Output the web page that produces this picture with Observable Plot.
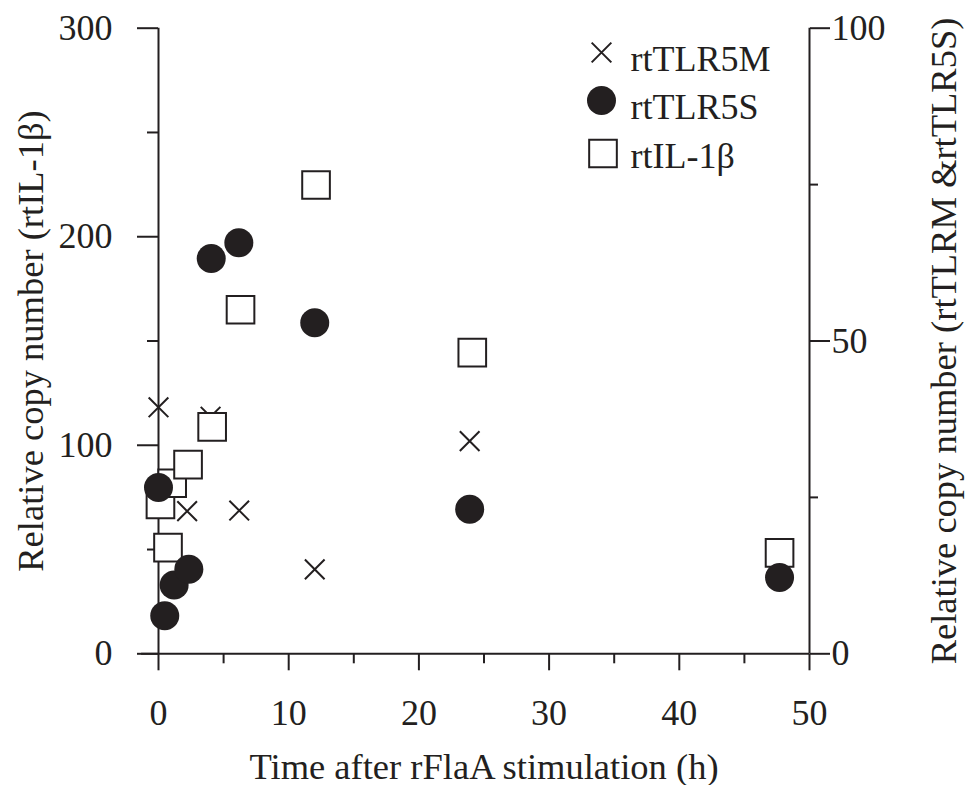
<!DOCTYPE html>
<html><head><meta charset="utf-8">
<script src="https://cdn.jsdelivr.net/npm/d3@7"></script>
<script src="https://cdn.jsdelivr.net/npm/@observablehq/plot@0.6"></script>
<style>html,body{margin:0;padding:0;background:#fff;}</style>
</head><body><div id="chart"></div>
<script>
const ink = "#231f20";
const font = "Liberation Serif";

// rtTLR5M (crosses, right axis 0-100)
const timesM  = [0, 2.2, 4.0, 6.2, 12.0, 23.9];
const valuesM = [39.4, 22.8, 37.9, 22.9, 13.5, 34.0];
// rtTLR5S (filled circles, right axis 0-100)
const timesS  = [0, 0.48, 1.2, 2.33, 4.05, 6.17, 12.0, 23.9, 47.7];
const valuesS = [26.6, 6.1, 11.0, 13.5, 63.2, 65.7, 52.9, 23.1, 12.2];
// rtIL-1β (open squares, left axis 0-300)
const timesIL  = [0.15, 0.73, 1.05, 2.27, 4.12, 6.3, 12.1, 24.1, 47.7];
const valuesIL = [71.6, 50.9, 81.8, 90.7, 108.8, 165, 224.8, 144.4, 48.4];

const xMajorTicks = [0, 10, 20, 30, 40, 50];
const xMinorTicks = [5, 15, 25, 35, 45];
const yLeftMajorTicks = [0, 100, 200, 300];
const yLeftMinorTicks = [50, 150, 250];
const yRightMajorTicks = [0, 50, 100];
const yRightMinorTicks = [25, 75];
const rightScale = 3; // right axis (0-100) drawn on left scale (0-300)

const legendLabels = ["rtTLR5M", "rtTLR5S", "rtIL-1β"];
const xTitle = "Time after rFlaA stimulation (h)";
const yLeftTitle = "Relative copy number (rtIL-1β)";
const yRightTitle = "Relative copy number (rtTLRM &rtTLR5S)";

const dataM = timesM.map((t, i) => ({t, v: valuesM[i] * rightScale}));
const dataS = timesS.map((t, i) => ({t, v: valuesS[i] * rightScale}));
const dataIL = timesIL.map((t, i) => ({t, v: valuesIL[i]}));

const legendSym = [
  {symbol: "times", r: 9, fill: "none", stroke: ink, strokeWidth: 2, dx: 443, dy: 24.3},
  {symbol: "circle", r: 14.5, fill: ink, stroke: "none", strokeWidth: 0, dx: 443, dy: 72.3},
  {symbol: "square", r: 15.6, fill: "white", stroke: ink, strokeWidth: 2, dx: 444.5, dy: 125.3}
];
const legendTextDy = [42.3, 90.3, 139.3];

const legendMarks = [];
legendLabels.forEach((lab, i) => {
  const s = legendSym[i];
  legendMarks.push(Plot.dot([lab], {frameAnchor: "top-left", symbol: s.symbol, r: s.r, fill: s.fill, stroke: s.stroke, strokeWidth: s.strokeWidth, dx: s.dx, dy: s.dy}));
  legendMarks.push(Plot.text([lab], {frameAnchor: "top-left", text: d => d, textAnchor: "start", lineAnchor: "bottom", dx: 472, dy: legendTextDy[i], fontSize: 36, fontFamily: font, fill: ink}));
});

const chart = Plot.plot({
  width: 965,
  height: 785,
  marginLeft: 158,
  marginRight: 156,
  marginTop: 27.7,
  marginBottom: 131.7,
  style: {fontFamily: font, fontSize: "36px", background: "white", color: ink, overflow: "visible"},
  x: {domain: [0, 50]},
  y: {domain: [0, 300]},
  marks: [
    Plot.axisX({ticks: xMajorTicks, tickSize: 17, tickPadding: 29, fontSize: 36, fontFamily: font, strokeWidth: 2, label: null}),
    Plot.axisX({ticks: xMinorTicks, tickSize: 10, tickFormat: () => "", strokeWidth: 2, label: null}),
    Plot.axisY({ticks: yLeftMajorTicks, tickSize: 21, tickPadding: 25, fontSize: 36, fontFamily: font, strokeWidth: 2, label: null}),
    Plot.axisY({ticks: yLeftMinorTicks, tickSize: 11, tickFormat: () => "", strokeWidth: 2, label: null}),
    Plot.axisY({anchor: "right", ticks: yRightMajorTicks.map(d => d * rightScale), tickFormat: d => d / rightScale, tickSize: 20, tickPadding: 2, fontSize: 36, fontFamily: font, strokeWidth: 2, label: null}),
    Plot.axisY({anchor: "right", ticks: yRightMinorTicks.map(d => d * rightScale), tickFormat: () => "", tickSize: 8, strokeWidth: 2, label: null}),
    Plot.ruleX([0], {y1: 0, y2: 300, stroke: ink, strokeWidth: 2}),
    Plot.ruleX([50], {y1: 0, y2: 300, stroke: ink, strokeWidth: 2}),
    Plot.ruleY([0], {x1: -1.3, x2: 50, stroke: ink, strokeWidth: 2}),
    Plot.dot(dataM, {x: "t", y: "v", symbol: "times", r: 9, stroke: ink, strokeWidth: 2}),
    Plot.dot(dataIL, {x: "t", y: "v", symbol: "square", r: 15.6, fill: "white", stroke: ink, strokeWidth: 2}),
    Plot.dot(dataS, {x: "t", y: "v", symbol: "circle", r: 14.5, fill: ink, stroke: "none"}),
    ...legendMarks,
    Plot.text([xTitle], {frameAnchor: "bottom", textAnchor: "middle", lineAnchor: "bottom", dy: 124.7, fontSize: 36.5, fontFamily: font, fill: ink}),
    Plot.text([yLeftTitle], {frameAnchor: "left", rotate: -90, textAnchor: "middle", lineAnchor: "bottom", dx: -116, fontSize: 36.5, fontFamily: font, fill: ink}),
    Plot.text([yRightTitle], {frameAnchor: "right", rotate: -90, textAnchor: "middle", lineAnchor: "bottom", dx: 146, fontSize: 36.5, fontFamily: font, fill: ink})
  ]
});
document.getElementById("chart").appendChild(chart);
</script>
</body></html>
